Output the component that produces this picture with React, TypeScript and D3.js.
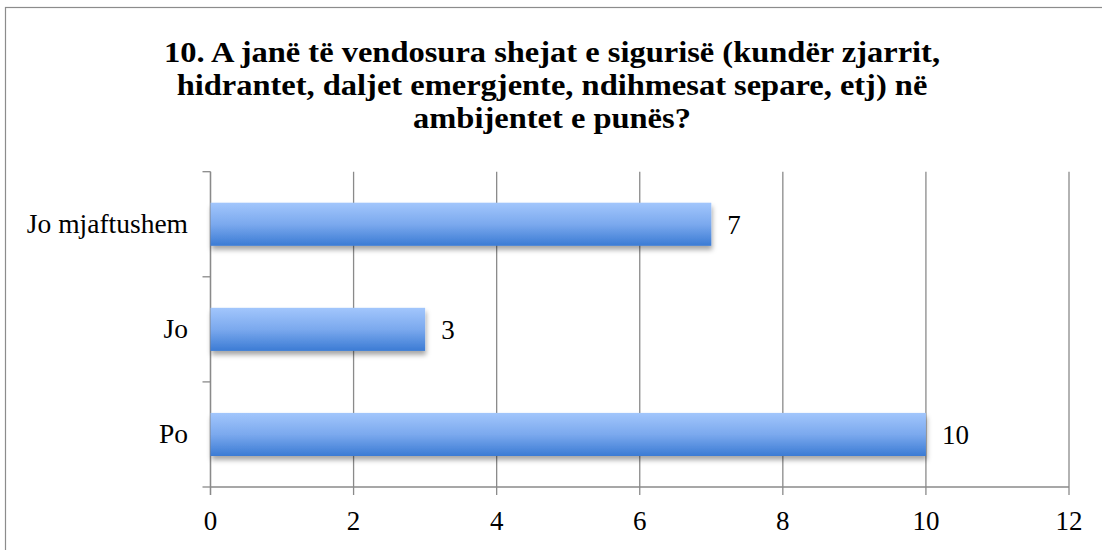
import React from "react";
import * as d3 from "d3";

const categories = ["Jo mjaftushem", "Jo", "Po"];
const values = [7, 3, 10];
const xTicks = [0, 2, 4, 6, 8, 10, 12];
const titleLines = [
  "10. A janë të vendosura shejat e sigurisë (kundër zjarrit,",
  "hidrantet, daljet emergjente, ndihmesat separe, etj) në",
  "ambijentet e punës?",
];

export default function App() {
  const W = 1102;
  const H = 550;
  const left = 210.5;
  const right = 1069;
  const top = 171.7;
  const bottom = 487;
  const x = d3.scaleLinear().domain([0, 12]).range([left, right]);
  const y = d3.scaleBand<string>().domain(categories).range([top, bottom]).paddingInner(0.59).paddingOuter(0.295);
  const font = "'Liberation Serif', 'Times New Roman', serif";
  const grid = "#8a8a8a";
  const bounds = d3.range(categories.length + 1).map((i) => top + (i * (bottom - top)) / categories.length);

  return (
    <svg width={W} height={H} style={{ position: "absolute", left: 0, top: 0, background: "#fff" }}>
      <defs>
        <linearGradient id="barGrad" x1="0" y1="0" x2="0" y2="1">
          <stop offset="0" stopColor="#a2c6fc" />
          <stop offset="0.5" stopColor="#7ba9ee" />
          <stop offset="1" stopColor="#3b7bd4" />
        </linearGradient>
        <filter id="shadow" x="-5%" y="-20%" width="110%" height="160%">
          <feDropShadow dx="1" dy="4" stdDeviation="2.5" floodColor="#000" floodOpacity="0.35" />
        </filter>
      </defs>
      <rect x={5.5} y={7.5} width={1300} height={700} fill="#fff" stroke="#8c8c8c" strokeWidth={1.2} />
      <g
        fontFamily={font}
        fontWeight="bold"
        fontSize={28.5}
        textAnchor="middle"
        fill="#000"
        transform="translate(552,0) scale(1.14,1)"
      >
        {titleLines.map((t, i) => (
          <text key={i} x={0} y={62 + i * 33}>
            {t}
          </text>
        ))}
      </g>
      {xTicks.map((t) => (
        <line key={"g" + t} x1={x(t)} x2={x(t)} y1={top} y2={bottom + 8} stroke={grid} strokeWidth={1.3} />
      ))}
      <line x1={left} x2={left} y1={top} y2={bottom + 8} stroke={grid} strokeWidth={1.3} />
      <line x1={left} x2={right} y1={bottom} y2={bottom} stroke={grid} strokeWidth={1.3} />
      {bounds.map((b, i) => (
        <line key={"b" + i} x1={left - 8} x2={left} y1={b} y2={b} stroke={grid} strokeWidth={1.3} />
      ))}
      {categories.map((c, i) => (
        <g key={c}>
          <rect
            x={x(0)}
            y={y(c)!}
            width={x(values[i]) - x(0)}
            height={y.bandwidth()}
            fill="url(#barGrad)"
            filter="url(#shadow)"
          />
          <text
            x={x(values[i]) + 16}
            y={y(c)! + y.bandwidth() / 2 + 9.5}
            fontFamily={font}
            fontSize={27}
            fill="#000"
          >
            {values[i]}
          </text>
          <text
            x={188}
            y={y(c)! + y.bandwidth() / 2 + 9}
            fontFamily={font}
            fontSize={27.5}
            textAnchor="end"
            fill="#000"
          >
            {c}
          </text>
        </g>
      ))}
      {xTicks.map((t) => (
        <text key={"t" + t} x={x(t)} y={530} fontFamily={font} fontSize={27} textAnchor="middle" fill="#000">
          {t}
        </text>
      ))}
    </svg>
  );
}
